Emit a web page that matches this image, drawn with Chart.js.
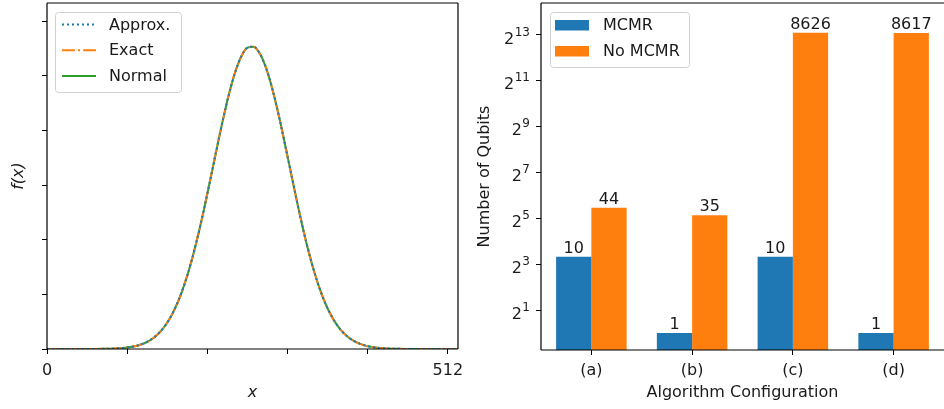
<!DOCTYPE html>
<html>
<head>
<meta charset="utf-8">
<script src="https://cdn.jsdelivr.net/npm/chart.js@4.4.1/dist/chart.umd.min.js"></script>
<style>
  html, body { margin: 0; padding: 0; background: #fff; }
  #wrap { position: relative; width: 944px; height: 409px; overflow: hidden; }
  .panel { position: absolute; top: 0; height: 409px; }
  #left { left: 0; width: 470px; }
  #right { left: 470px; width: 474px; }
</style>
</head>
<body>
<div id="wrap">
  <div class="panel" id="left"><canvas id="curveChart" width="470" height="409"></canvas></div>
  <div class="panel" id="right"><canvas id="qubitChart" width="474" height="409"></canvas></div>
</div>
<script>
// ---- left panel: density curves ----
var xPositions = [0, 8, 16, 24, 32, 40, 48, 56, 64, 72, 80, 88, 96, 104, 112, 120, 128, 136, 144, 152,
    160, 168, 176, 184, 192, 200, 208, 216, 224, 232, 240, 248, 256, 264, 272, 280, 288, 296, 304, 312,
    320, 328, 336, 344, 352, 360, 368, 376, 384, 392, 400, 408, 416, 424, 432, 440, 448, 456, 464, 472,
    480, 488, 496, 504, 512, 520, 525];
// the three curves lie on top of each other in the picture, so they share the read values
var curveValues = [0, 0, 0, 0, 0, 0, 0.000001, 0.000001, 0.000002, 0.000004, 0.000008, 0.000015, 0.000026,
    0.000046, 0.000076, 0.000124, 0.000197, 0.000304, 0.000459, 0.000673, 0.000960, 0.001333, 0.001802,
    0.002371, 0.003036, 0.003784, 0.004589, 0.005417, 0.006223, 0.006960, 0.007575, 0.008024, 0.008273,
    0.008301, 0.008106, 0.007705, 0.007127, 0.006417, 0.005623, 0.004796, 0.003980, 0.003215, 0.002528,
    0.001935, 0.001441, 0.001044, 0.000737, 0.000505, 0.000338, 0.000220, 0.000139, 0.000086, 0.000052,
    0.000030, 0.000017, 0.000009, 0.000005, 0.000002, 0.000001, 0, 0, 0, 0, 0, 0, 0, 0];
var curveLabels = ['Approx.', 'Exact', 'Normal'];
var xTickValues = [0, 102.4, 204.8, 307.2, 409.6, 512];
var xTickLabels = ['0', '', '', '', '', '512'];
var fTickValues = [0, 0.0015, 0.003, 0.0045, 0.006, 0.0075, 0.009];

// ---- right panel: qubit counts ----
var configs = ['(a)', '(b)', '(c)', '(d)'];
var mcmrQubits = [10, 1, 10, 1];
var noMcmrQubits = [44, 35, 8626, 8617];
var qubitTickValues = [2, 8, 32, 128, 512, 2048, 8192];
var qubitTickExponents = ['1', '3', '5', '7', '9', '11', '13'];

Chart.defaults.font.family = 'DejaVu Sans';
Chart.defaults.font.size = 16;
Chart.defaults.color = '#1a1a1a';

function toPoints(values) {
    return values.map(function (v, i) { return { x: xPositions[i], y: v }; });
}

function roundRect(ctx, x, y, w, h, r) {
    ctx.beginPath();
    ctx.moveTo(x + r, y);
    ctx.lineTo(x + w - r, y);
    ctx.arcTo(x + w, y, x + w, y + r, r);
    ctx.lineTo(x + w, y + h - r);
    ctx.arcTo(x + w, y + h, x + w - r, y + h, r);
    ctx.lineTo(x + r, y + h);
    ctx.arcTo(x, y + h, x, y + h - r, r);
    ctx.lineTo(x, y + r);
    ctx.arcTo(x, y, x + r, y, r);
    ctx.closePath();
}

function legendBox(ctx, x, y, w, h) {
    roundRect(ctx, x, y, w, h, 3);
    ctx.fillStyle = 'rgba(255,255,255,0.8)';
    ctx.fill();
    ctx.strokeStyle = '#d0d0d0';
    ctx.lineWidth = 1;
    ctx.stroke();
}

// spines drawn round the plot area
function framePlugin(sides) {
    return {
        id: 'frame',
        afterDatasetsDraw: function (chart) {
            var a = chart.chartArea, ctx = chart.ctx;
            ctx.save();
            ctx.strokeStyle = '#000';
            ctx.lineWidth = 1.2;
            ctx.beginPath();
            if (sides.indexOf('l') >= 0) { ctx.moveTo(a.left, a.top); ctx.lineTo(a.left, a.bottom); }
            if (sides.indexOf('b') >= 0) { ctx.moveTo(a.left, a.bottom); ctx.lineTo(a.right, a.bottom); }
            if (sides.indexOf('t') >= 0) { ctx.moveTo(a.left, a.top); ctx.lineTo(a.right, a.top); }
            if (sides.indexOf('r') >= 0) { ctx.moveTo(a.right, a.top); ctx.lineTo(a.right, a.bottom); }
            ctx.stroke();
            ctx.restore();
        }
    };
}

function fixSize(w, h) {
    return function (scale) {
        if (w) scale.width = w;
        if (h) scale.height = h;
        scale.paddingLeft = 0; scale.paddingRight = 0;
        scale.paddingTop = 0; scale.paddingBottom = 0;
    };
}

var curveLegend = {
    id: 'curveLegend',
    afterDraw: function (chart) {
        var ctx = chart.ctx;
        ctx.save();
        legendBox(ctx, 55.5, 12.5, 126, 80);
        chart.data.datasets.forEach(function (ds, i) {
            var y = 24.5 + i * 25.8;
            ctx.strokeStyle = ds.borderColor;
            ctx.lineWidth = ds.borderWidth;
            ctx.setLineDash(ds.borderDash || []);
            ctx.beginPath();
            ctx.moveTo(62, y);
            ctx.lineTo(96, y);
            ctx.stroke();
            ctx.setLineDash([]);
            ctx.fillStyle = '#1a1a1a';
            ctx.font = '16px "DejaVu Sans"';
            ctx.textBaseline = 'middle';
            ctx.fillText(ds.label, 109, y + 1);
        });
        ctx.restore();
    }
};

var curveChart = new Chart(document.getElementById('curveChart').getContext('2d'), {
    type: 'line',
    data: {
        datasets: [{
            label: curveLabels[0],
            data: toPoints(curveValues),
            borderColor: '#1f77b4',
            borderWidth: 2,
            borderDash: [2, 3]
        }, {
            label: curveLabels[1],
            data: toPoints(curveValues),
            borderColor: '#ff7f0e',
            borderWidth: 2,
            borderDash: [12.8, 3.2, 2, 3.2]
        }, {
            label: curveLabels[2],
            data: toPoints(curveValues),
            borderColor: '#2ca02c',
            borderWidth: 2
        }]
    },
    options: {
        responsive: false,
        animation: false,
        layout: { padding: { top: 3, right: 12, left: 0, bottom: 0 } },
        elements: { point: { radius: 0 }, line: { cubicInterpolationMode: 'monotone' } },
        plugins: { legend: { display: false }, tooltip: { enabled: false } },
        scales: {
            x: {
                type: 'linear',
                min: 0,
                max: 525,
                afterBuildTicks: function (scale) {
                    scale.ticks = xTickValues.map(function (v) { return { value: v }; });
                },
                afterFit: fixSize(null, 60),
                ticks: {
                    autoSkip: false,
                    maxRotation: 0,
                    padding: 7,
                    callback: function (value, index) { return xTickLabels[index]; }
                },
                grid: { drawOnChartArea: false, tickLength: 5, color: '#000', tickWidth: 1 },
                border: { display: false },
                title: {
                    display: true,
                    text: 'x',
                    font: { style: 'italic', size: 16 },
                    padding: { top: 0, bottom: 7 }
                }
            },
            y: {
                type: 'linear',
                min: 0,
                max: 0.0095,
                afterBuildTicks: function (scale) {
                    scale.ticks = fTickValues.map(function (v) { return { value: v }; });
                },
                afterFit: fixSize(47, null),
                ticks: { display: false },
                grid: { drawOnChartArea: false, tickLength: 5, color: '#000', tickWidth: 1 },
                border: { display: false },
                title: {
                    display: true,
                    text: 'f(x)',
                    font: { style: 'italic', size: 16 },
                    padding: { top: 9, bottom: 0 }
                }
            }
        }
    },
    plugins: [framePlugin('lbtr'), curveLegend]
});

var barLegend = {
    id: 'barLegend',
    afterDraw: function (chart) {
        var ctx = chart.ctx;
        ctx.save();
        legendBox(ctx, 80.5, 12.5, 139, 55);
        chart.data.datasets.forEach(function (ds, i) {
            var y = 20 + i * 26;
            ctx.fillStyle = ds.backgroundColor;
            ctx.fillRect(85, y, 34, 10.5);
            ctx.fillStyle = '#1a1a1a';
            ctx.font = '16px "DejaVu Sans"';
            ctx.textBaseline = 'middle';
            ctx.fillText(ds.label, 133, y + 6);
        });
        ctx.restore();
    }
};

var barValueLabels = {
    id: 'barValueLabels',
    afterDatasetsDraw: function (chart) {
        var ctx = chart.ctx;
        ctx.save();
        ctx.fillStyle = '#1a1a1a';
        ctx.font = '16px "DejaVu Sans"';
        ctx.textAlign = 'center';
        ctx.textBaseline = 'alphabetic';
        chart.data.datasets.forEach(function (ds, di) {
            chart.getDatasetMeta(di).data.forEach(function (bar, i) {
                ctx.fillText(String(ds.data[i]), bar.x, bar.y - 4);
            });
        });
        ctx.restore();
    }
};

// power-of-two tick labels: base 2 with a raised, smaller exponent
var powerTickLabels = {
    id: 'powerTickLabels',
    afterDraw: function (chart) {
        var ctx = chart.ctx, scale = chart.scales.y;
        var right = scale.right - 11;
        ctx.save();
        ctx.fillStyle = '#1a1a1a';
        ctx.textAlign = 'right';
        ctx.textBaseline = 'alphabetic';
        qubitTickValues.forEach(function (v, i) {
            var y = scale.getPixelForValue(v);
            ctx.font = '12px "DejaVu Sans"';
            var exp = qubitTickExponents[i];
            var w = ctx.measureText(exp).width;
            ctx.fillText(exp, right, y + 1);
            ctx.font = '16px "DejaVu Sans"';
            ctx.fillText('2', right - w - 0.5, y + 9);
        });
        ctx.restore();
    }
};

var qubitChart = new Chart(document.getElementById('qubitChart').getContext('2d'), {
    type: 'bar',
    data: {
        labels: configs,
        datasets: [{
            label: 'MCMR',
            data: mcmrQubits,
            backgroundColor: '#1f77b4'
        }, {
            label: 'No MCMR',
            data: noMcmrQubits,
            backgroundColor: '#ff7f0e'
        }]
    },
    options: {
        responsive: false,
        animation: false,
        layout: { padding: { top: 3, right: 0, left: 0, bottom: 0 } },
        datasets: { bar: { categoryPercentage: 0.7, barPercentage: 1.0 } },
        plugins: { legend: { display: false }, tooltip: { enabled: false } },
        scales: {
            x: {
                offset: true,
                afterFit: fixSize(null, 59),
                ticks: { padding: 6, maxRotation: 0 },
                grid: { offset: false, drawOnChartArea: false, tickLength: 5, color: '#000', tickWidth: 1 },
                border: { display: false },
                title: {
                    display: true,
                    text: 'Algorithm Configuration',
                    padding: { top: 0, bottom: 7 }
                }
            },
            y: {
                type: 'logarithmic',
                min: 0.632,
                max: 21250,
                afterBuildTicks: function (scale) {
                    scale.ticks = qubitTickValues.map(function (v) { return { value: v }; });
                },
                afterFit: fixSize(71, null),
                ticks: { display: false },
                grid: { drawOnChartArea: false, tickLength: 5, color: '#000', tickWidth: 1 },
                border: { display: false },
                title: {
                    display: true,
                    text: 'Number of Qubits',
                    padding: { top: 5, bottom: 0 }
                }
            }
        }
    },
    plugins: [framePlugin('lbt'), barValueLabels, barLegend, powerTickLabels]
});
</script>
</body>
</html>
